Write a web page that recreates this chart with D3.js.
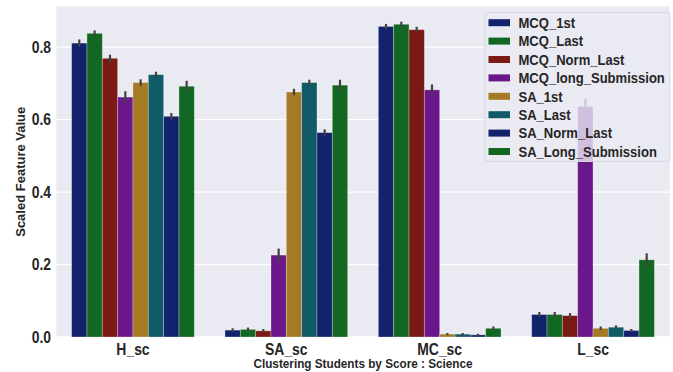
<!DOCTYPE html>
<html>
<head>
<meta charset="utf-8">
<script src="https://cdn.jsdelivr.net/npm/d3@7"></script>
<style>
  body { margin: 0; background: #fff; }
  text { font-family: "Liberation Sans", Arial, sans-serif; font-weight: bold; fill: #262626; }
</style>
</head>
<body>
<div class="chart"></div>
<script>
// clusters on the x axis
var clusters = ["H_sc", "SA_sc", "MC_sc", "L_sc"];
// one series per feature, one value per cluster
var features = ["MCQ_1st", "MCQ_Last", "MCQ_Norm_Last", "MCQ_long_Submission",
                "SA_1st", "SA_Last", "SA_Norm_Last", "SA_Long_Submission"];
var mcq1st      = [0.811, 0.019, 0.857, 0.062];
var mcqLast     = [0.838, 0.021, 0.863, 0.062];
var mcqNormLast = [0.769, 0.017, 0.848, 0.059];
var mcqLong     = [0.662, 0.226, 0.682, 0.636];
var sa1st       = [0.702, 0.676, 0.008, 0.024];
var saLast      = [0.724, 0.702, 0.008, 0.027];
var saNormLast  = [0.609, 0.564, 0.006, 0.018];
var saLong      = [0.692, 0.695, 0.024, 0.213];
// half length of the error bars
var errMcq1st      = [0.010, 0.005, 0.007, 0.007];
var errMcqLast     = [0.008, 0.005, 0.007, 0.007];
var errMcqNormLast = [0.010, 0.005, 0.008, 0.007];
var errMcqLong     = [0.016, 0.018, 0.015, 0.021];
var errSa1st       = [0.009, 0.009, 0.003, 0.005];
var errSaLast      = [0.008, 0.008, 0.003, 0.005];
var errSaNormLast  = [0.009, 0.009, 0.003, 0.004];
var errSaLong      = [0.015, 0.015, 0.005, 0.018];
var yTicks = [0, 0.2, 0.4, 0.6, 0.8];

var values = [mcq1st, mcqLast, mcqNormLast, mcqLong, sa1st, saLast, saNormLast, saLong];
var errors = [errMcq1st, errMcqLast, errMcqNormLast, errMcqLong, errSa1st, errSaLast, errSaNormLast, errSaLong];
var colors = ["#13226d", "#126722", "#7b1914", "#6b168a", "#a47b24", "#115a67", "#13226d", "#126722"];

var width = 673, height = 372;
var plotL = 56.3, plotR = 669.7, plotT = 6.5, plotB = 337;
var squeeze = 0.87; // text in the picture is narrowed horizontally

var svg = d3.select('.chart')
            .append('svg')
            .attr('width', width)
            .attr('height', height);

var x = d3.scaleBand().domain(clusters).range([plotL, plotR]).padding(0);
var y = d3.scaleLinear().domain([0, 0.912]).range([plotB, plotT]);
var bw = x.bandwidth();
var sub = bw * 0.8 / features.length;

// plot background
svg.append("rect")
   .attr("x", plotL).attr("y", plotT)
   .attr("width", plotR - plotL).attr("height", plotB - plotT)
   .attr("fill", "#eaeaf2");

// horizontal grid
svg.append("g").selectAll("line")
   .data(yTicks).join("line")
   .attr("x1", plotL).attr("x2", plotR)
   .attr("y1", d => y(d)).attr("y2", d => y(d))
   .attr("stroke", "#fff").attr("stroke-width", 1.3);

// flat records for bars
var rows = [];
features.forEach(function(f, i) {
  clusters.forEach(function(c, j) {
    rows.push({feature: f, fi: i, cluster: c, v: values[i][j], e: errors[i][j]});
  });
});

svg.append("g").selectAll("rect")
   .data(rows).join("rect")
   .attr("x", d => x(d.cluster) + bw * 0.1 + d.fi * sub)
   .attr("y", d => y(d.v))
   .attr("width", sub)
   .attr("height", d => y(0) - y(d.v))
   .attr("fill", d => colors[d.fi])
   .attr("stroke", "#ffffff").attr("stroke-opacity", 0.35).attr("stroke-width", 0.8);

// error bars
svg.append("g").selectAll("line")
   .data(rows).join("line")
   .attr("x1", d => x(d.cluster) + bw * 0.1 + (d.fi + 0.5) * sub)
   .attr("x2", d => x(d.cluster) + bw * 0.1 + (d.fi + 0.5) * sub)
   .attr("y1", d => y(d.v - d.e))
   .attr("y2", d => y(d.v + d.e))
   .attr("stroke", "#424242").attr("stroke-width", 2.2);

// helper for narrowed text
function label(g, tx, ty, str, size, anchor) {
  return g.append("text")
          .attr("transform", "translate(" + tx + "," + ty + ") scale(" + squeeze + ",1)")
          .attr("text-anchor", anchor)
          .style("font-size", size + "px")
          .text(str);
}

// y tick labels
var fmt = d3.format(".1f");
yTicks.forEach(function(t) {
  label(svg, 51, y(t) + 5.8, fmt(t), 16, "end");
});

// x tick labels
clusters.forEach(function(c) {
  label(svg, x(c) + bw / 2, 354.5, c, 16, "middle");
});

// axis titles
label(svg, (plotL + plotR) / 2, 368.3, "Clustering Students by Score : Science", 13.5, "middle");
svg.append("text")
   .attr("transform", "translate(25," + (plotT + plotB) / 2 + ") rotate(-90)")
   .attr("text-anchor", "middle")
   .style("font-size", "13px")
   .text("Scaled Feature Value");

// legend
var legend = svg.append("g");
legend.append("rect")
      .attr("x", 485).attr("y", 12.5)
      .attr("width", 185).attr("height", 149)
      .attr("rx", 3)
      .attr("fill", "#eaeaf2").attr("fill-opacity", 0.8)
      .attr("stroke", "#d6d6e2").attr("stroke-width", 1);

var rowH = 18.4;
features.forEach(function(f, i) {
  var cy = 22.7 + i * rowH;
  legend.append("rect")
        .attr("x", 488.5).attr("y", cy - 3.5)
        .attr("width", 21.5).attr("height", 7)
        .attr("fill", colors[i]);
  label(legend, 518.5, cy + 5.3, f, 15, "start");
});
</script>
</body>
</html>
